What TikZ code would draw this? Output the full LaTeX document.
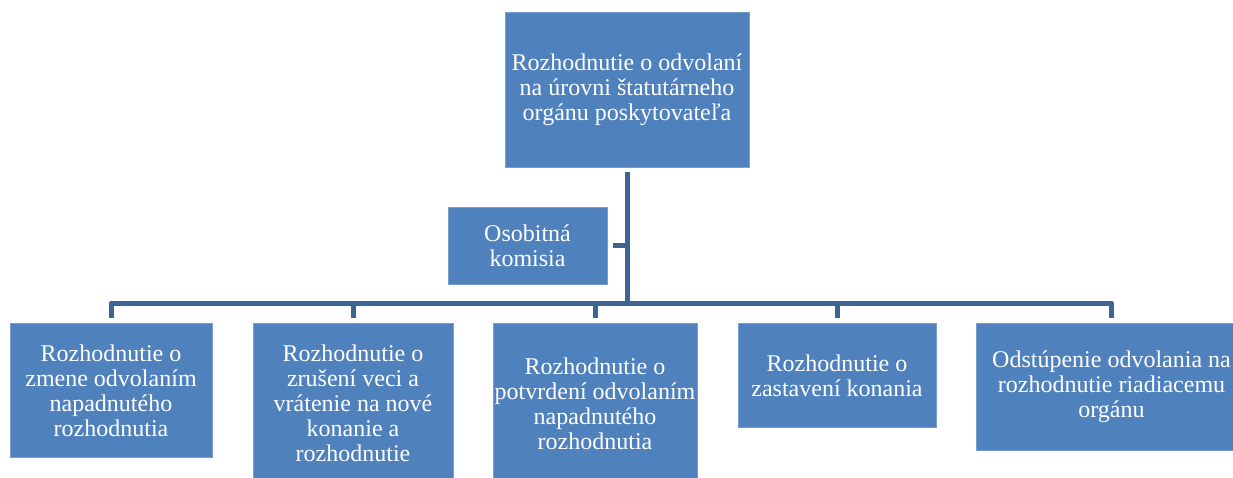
\documentclass[tikz,border=0pt]{standalone}
\usepackage{fontspec}
\setmainfont{Liberation Serif}
\definecolor{boxblue}{RGB}{79,129,189}
\definecolor{edgeblue}{RGB}{118,158,208}
\definecolor{linkblue}{RGB}{62,100,148}
\tikzset{
	box/.style={fill=boxblue, draw=edgeblue, line width=0.8pt, text=white, align=center, inner sep=0pt, font=\fontsize{24}{25}\selectfont},
	link/.style={draw=linkblue, line width=5pt, line join=round}
}
\begin{document}
\begin{tikzpicture}[x=1pt,y=-1pt]
	\useasboundingbox (0,0) rectangle (1233,477);
	\clip (0,0) rectangle (1233,477);
	\def\rt{323}
	\node[box, minimum width=244, minimum height=155] (top) at (627,89.5) {Rozhodnutie o odvolaní\\na úrovni štatutárneho\\orgánu poskytovateľa};
	\node[box, minimum width=159, minimum height=77] (kom) at (527.5,245.5) {Osobitná\\komisia};
	\node[box, anchor=north, minimum width=202, minimum height=134] (r1) at (111,\rt) {Rozhodnutie o\\zmene odvolaním\\napadnutého\\rozhodnutia};
	\node[box, anchor=north, minimum width=200, minimum height=160] (r2) at (353,\rt) {Rozhodnutie o\\zrušení veci a\\vrátenie na nové\\konanie a\\rozhodnutie};
	\node[box, anchor=north, minimum width=204, minimum height=160] (r3) at (595,\rt) {Rozhodnutie o\\potvrdení odvolaním\\napadnutého\\rozhodnutia};
	\node[box, anchor=north, minimum width=198, minimum height=104] (r4) at (837,\rt) {Rozhodnutie o\\zastavení konania};
	\node[box, anchor=north, minimum width=271, minimum height=127] (r5) at (1111.5,\rt) {Odstúpenie odvolania na\\rozhodnutie riadiacemu\\orgánu};
	\coordinate (bar) at (627,303);
	\draw[link] ([yshift=-5pt]top.south) -- (bar);
	\draw[link] ([xshift=6pt]kom.east) -- (kom.east -| bar);
	\foreach \r in {r1,r2,r3,r4,r5} {
		\draw[link] ([yshift=5pt]\r.north) |- (bar);
	}
\end{tikzpicture}
\end{document}
